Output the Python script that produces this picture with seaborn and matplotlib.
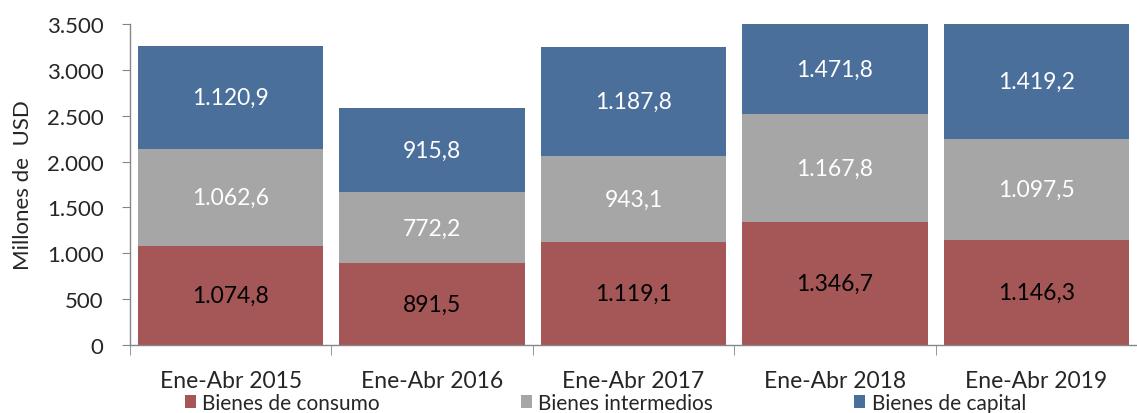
import numpy as np
import pandas as pd
import matplotlib.pyplot as plt
import seaborn as sb
from matplotlib.patches import Patch
from matplotlib.ticker import FuncFormatter

periods = ['Ene-Abr 2015', 'Ene-Abr 2016', 'Ene-Abr 2017', 'Ene-Abr 2018', 'Ene-Abr 2019']
consumo = [1074.8, 891.5, 1119.1, 1346.7, 1146.3]
intermedios = [1062.6, 772.2, 943.1, 1167.8, 1097.5]
capital = [1120.9, 915.8, 1187.8, 1471.8, 1419.2]
series_names = ['Bienes de consumo', 'Bienes intermedios', 'Bienes de capital']
colors = ['#A55657', '#A6A6A6', '#4A6F9B']
label_colors = ['black', 'white', 'white']
y_max = 3500


def es_number(v, decimals=1):
    s = f'{v:,.{decimals}f}'
    return s.replace(',', 'X').replace('.', ',').replace('X', '.')


sb.set_style('white')
plt.rcParams['font.family'] = ['Lato', 'DejaVu Sans']

df = pd.DataFrame({'period': periods, 'consumo': consumo,
                   'intermedios': intermedios, 'capital': capital})
df['c1'] = df['consumo']
df['c2'] = df['c1'] + df['intermedios']
df['c3'] = df['c2'] + df['capital']

fig = plt.figure(figsize=(11.37, 4.14), dpi=100)
ax = fig.add_axes([0.1143, 0.164, 0.8857, 0.7756])

# Stacked bars: draw cumulative totals from top to bottom
for col, color in zip(['c3', 'c2', 'c1'], colors[::-1]):
    sb.barplot(data=df, x='period', y=col, color=color, width=0.92,
               saturation=1, linewidth=0, edgecolor='none', ax=ax, zorder=2)

ax.set_ylim(0, y_max)
ax.set_xlim(-0.5, len(periods) - 0.5)
ax.set_yticks(np.arange(0, y_max + 1, 500))
ax.yaxis.set_major_formatter(FuncFormatter(lambda v, p: es_number(v, 0)))

# Segment labels (centered in the visible part of each segment)
bottoms = [np.zeros(len(periods)), df['c1'].values, df['c2'].values]
tops = [df['c1'].values, df['c2'].values, df['c3'].values]
values = [consumo, intermedios, capital]
for vals, lo, hi, tc in zip(values, bottoms, tops, label_colors):
    for i, v in enumerate(vals):
        mid = (lo[i] + min(hi[i], y_max)) / 2
        ax.text(i, mid, es_number(v), ha='center', va='center',
                color=tc, fontsize=16.5)

# Axis styling
spine_color = '#868686'
for side in ['top', 'right']:
    ax.spines[side].set_visible(False)
for side in ['left', 'bottom']:
    ax.spines[side].set_color(spine_color)
    ax.spines[side].set_linewidth(1)

ax.set_xlabel('')
ax.set_ylabel('Millones de  USD', fontsize=16, labelpad=10)
ax.tick_params(axis='y', which='major', length=6, color=spine_color,
               labelsize=16, direction='out', pad=13, left=True)
ax.tick_params(axis='x', which='major', length=0, labelsize=16.5, pad=18)
ax.set_xticks(np.arange(-0.5, len(periods)), minor=True)
ax.tick_params(axis='x', which='minor', length=7, color=spine_color,
               direction='out', bottom=True)

handles = [Patch(facecolor=c, edgecolor='none') for c in colors]
fig.legend(handles, series_names, loc='lower left', bbox_to_anchor=(0.146, -0.045),
           ncol=3, frameon=False, fontsize=15, handlelength=0.55,
           handleheight=0.55, handletextpad=0.3, columnspacing=6.75)

fig.savefig('out.png', dpi=100)
